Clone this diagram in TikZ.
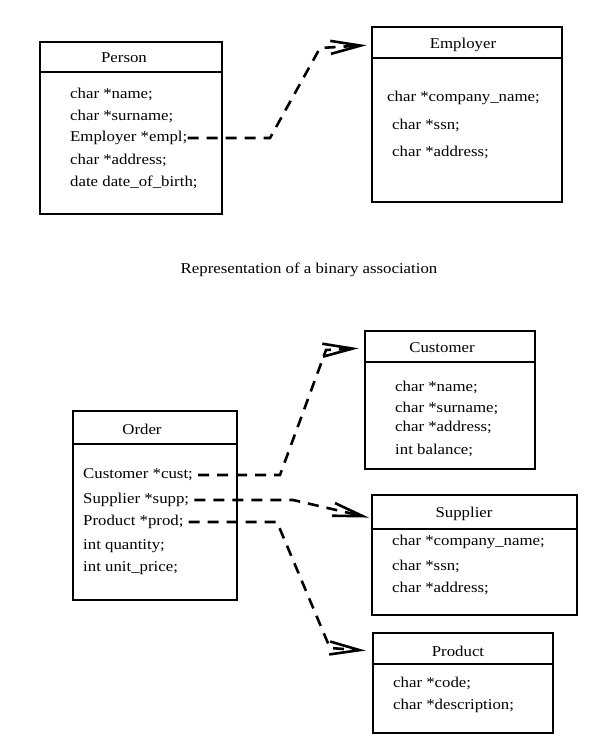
\documentclass[tikz,border=0pt]{standalone}
\usepackage{fontspec}
\setmainfont{Liberation Serif}[FakeStretch=1.12]
\usetikzlibrary{arrows.meta}
\tikzset{>/.tip={Straight Barb[length=30pt,width=13pt,line width=2.6pt]},
  classbox/.style={draw, line width=2.6pt, inner sep=0pt},
  classname/.style={font=\fontsize{15}{18}\selectfont, inner sep=0pt},
  field/.style={font=\fontsize{15}{18}\selectfont, anchor=west, inner sep=0pt},
  assoc/.style={->, dash pattern=on 11pt off 8pt, line width=2.6pt}}

\begin{document}
\begin{tikzpicture}[x=1pt,y=-1pt]
\useasboundingbox (0,0) rectangle (600,750);

% binary association
\node[classbox, minimum width=182pt, minimum height=172pt] (Person) at (131,128) {};
\draw[classbox] (Person.west |- 0,72) -- (Person.east |- 0,72);
\node[classname] (Person-t) at (124,58) {Person};
\node[field] (name) at (70,94) {char *name;};
\node[field] (surname) at (70,116) {char *surname;};
\node[field] (empl) at (70,138) {Employer *empl;};
\node[field] (address) at (70,160) {char *address;};
\node[field] (birth) at (70,182) {date date\_of\_birth;};

\node[classbox, minimum width=190pt, minimum height=175pt] (Employer) at (467,114.5) {};
\draw[classbox] (Employer.west |- 0,58) -- (Employer.east |- 0,58);
\node[classname] (Employer-t) at (463,45) {Employer};
\node[field] (emp-company) at (387,98) {char *company\_name;};
\node[field] (emp-ssn) at (392,125) {char *ssn;};
\node[field] (emp-address) at (392,152) {char *address;};

\coordinate (e1) at (empl.east -| 270,0);
\coordinate (e2) at (320,48);
\draw[assoc, shorten >=4pt] (empl.east) -- (e1) -- (e2) -- (Employer.west |- Employer-t);

\node[classname] (caption) at (309,270) {Representation of a binary association};

% order
\node[classbox, minimum width=164pt, minimum height=189pt] (Order) at (155,505.5) {};
\draw[classbox] (Order.west |- 0,444) -- (Order.east |- 0,444);
\node[classname] (Order-t) at (142,429) {Order};
\node[field] (cust) at (83,475) {Customer *cust;};
\node[field] (supp) at (83,500) {Supplier *supp;};
\node[field] (prod) at (83,522) {Product *prod;};
\node[field] (quantity) at (83,546) {int quantity;};
\node[field] (price) at (83,568) {int unit\_price;};

\node[classbox, minimum width=170pt, minimum height=138pt] (Customer) at (450,400) {};
\draw[classbox] (Customer.west |- 0,362) -- (Customer.east |- 0,362);
\node[classname] (Customer-t) at (442,348) {Customer};
\node[field] (cus-name) at (395,387) {char *name;};
\node[field] (cus-surname) at (395,408) {char *surname;};
\node[field] (cus-address) at (395,427) {char *address;};
\node[field] (cus-balance) at (395,450) {int balance;};

\node[classbox, minimum width=205pt, minimum height=120pt] (Supplier) at (474.5,555) {};
\draw[classbox] (Supplier.west |- 0,529) -- (Supplier.east |- 0,529);
\node[classname] (Supplier-t) at (464,514) {Supplier};
\node[field] (sup-company) at (392,542) {char *company\_name;};
\node[field] (sup-ssn) at (392,566) {char *ssn;};
\node[field] (sup-address) at (392,588) {char *address;};

\node[classbox, minimum width=180pt, minimum height=100pt] (Product) at (463,683) {};
\draw[classbox] (Product.west |- 0,664) -- (Product.east |- 0,664);
\node[classname] (Product-t) at (458,651) {Product};
\node[field] (pro-code) at (393,683) {char *code;};
\node[field] (pro-descr) at (393,706) {char *description;};

\coordinate (c1) at (cust.east -| 280,0);
\coordinate (c2) at (326,350);
\coordinate (s1) at (supp.east -| 293,0);
\coordinate (p1) at (prod.east -| 277,0);
\coordinate (p2) at (330,648);
\draw[assoc, shorten <=5pt, shorten >=5pt] (cust.east) -- (c1) -- (c2) -- (Customer.west |- Customer-t);
\draw[assoc, shorten <=5pt, shorten >=2pt] (supp.east) -- (s1) -- (Supplier.west |- 0,518);
\draw[assoc, shorten <=5pt, shorten >=6pt] (prod.east) -- (p1) -- (p2) -- (Product.west |- Product-t);
\end{tikzpicture}
\end{document}
